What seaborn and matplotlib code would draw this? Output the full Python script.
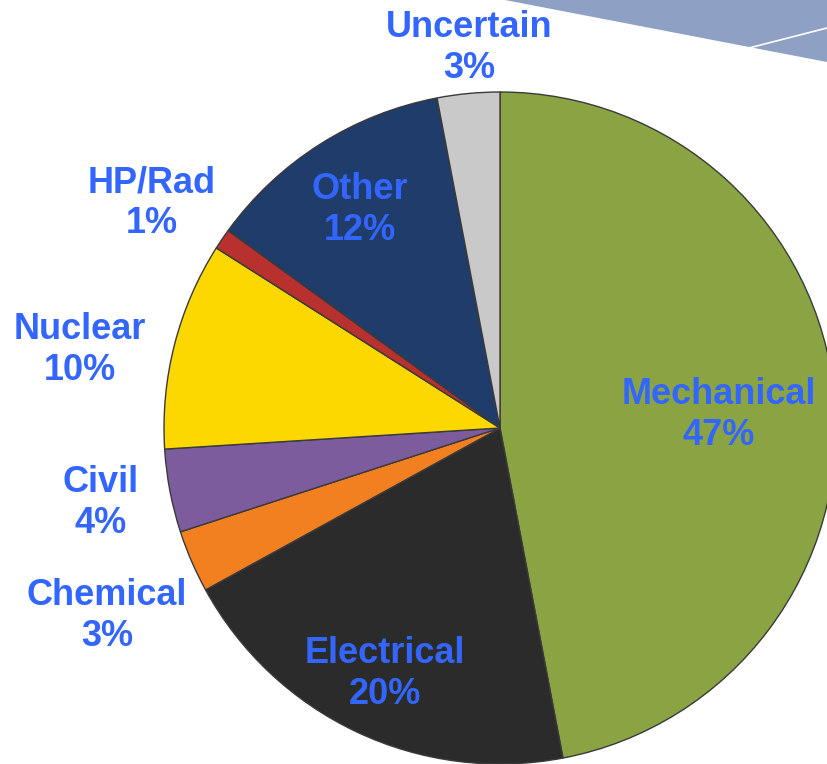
import matplotlib
matplotlib.use("Agg")
import matplotlib.pyplot as plt
import seaborn as sns
from matplotlib.patches import Polygon

# data
labels = ["Mechanical", "Electrical", "Chemical", "Civil", "Nuclear", "HP/Rad", "Other", "Uncertain"]
shares = [47, 20, 3, 4, 10, 1, 12, 3]
colors = ["#8aa443", "#2b2b2b", "#f38020", "#7d5c9e", "#fdd700", "#b8312f", "#1f3c6a", "#c9c9c9"]

# label anchor points (pixel space, y from top)
label_pos = {
    "Mechanical": (719, 415),
    "Electrical": (385, 674),
    "Chemical": (107, 616),
    "Civil": (101, 503),
    "Nuclear": (80, 350),
    "HP/Rad": (152, 203),
    "Other": (360, 210),
    "Uncertain": (469, 48),
}

sns.set_theme(style="white")
plt.rcParams["font.family"] = ["Liberation Sans", "DejaVu Sans"]

W, H = 827, 764
fig = plt.figure(figsize=(W / 100, H / 100), dpi=100)
ax = fig.add_axes([0, 0, 1, 1])

# decorative band top right
band = Polygon([(505, H), (W, H), (W, H - 62)], closed=True,
               facecolor="#8ea0c3", edgecolor="none", zorder=0)
ax.add_patch(band)
ax.plot([745, W], [H - 49, H - 28], color="white", lw=1.2, zorder=1)

cx, cy, r = 500, H - 428, 336
ax.pie(shares, colors=colors, startangle=90, counterclock=False,
       center=(cx, cy), radius=r, frame=True,
       wedgeprops=dict(edgecolor="#3a3a3a", linewidth=1.0))
ax.set_xlim(0, W)
ax.set_ylim(0, H)
ax.set_aspect("equal")
ax.axis("off")

for lab, val in zip(labels, shares):
    x, y = label_pos[lab]
    ax.text(x, H - y, f"{lab}\n{val}%", ha="center", va="center",
            fontsize=26, fontweight="bold", color="#3366ff",
            linespacing=1.22, zorder=5)

fig.savefig("out.png", dpi=100)
